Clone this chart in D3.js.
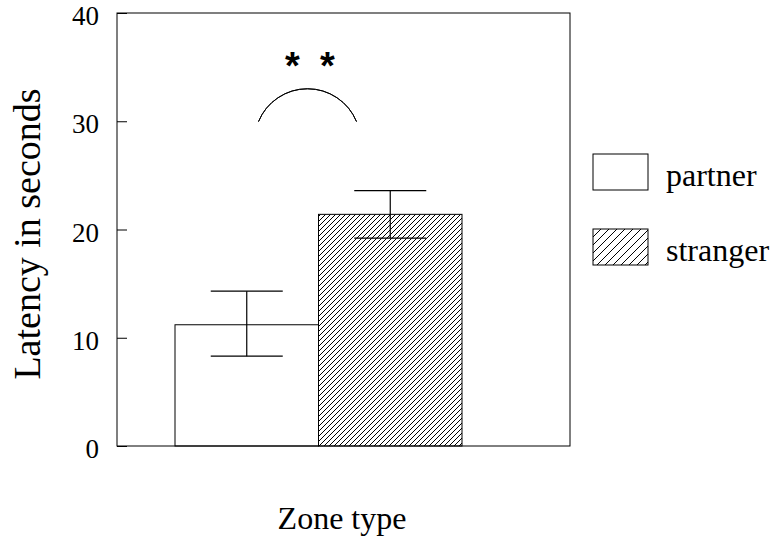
<!DOCTYPE html>
<html>
<head>
<meta charset="utf-8">
<script src="https://cdn.jsdelivr.net/npm/d3@7"></script>
<style>
  body { margin: 0; background: #fff; }
  text { font-family: "Liberation Serif", "Times New Roman", serif; fill: #000; }
</style>
</head>
<body>
<div id="chart"></div>
<script>
var categories = ["partner", "stranger"];
var means = [11.2, 21.4];
var errLow = [8.3, 19.2];
var errHigh = [14.3, 23.6];
var yTicks = [0, 10, 20, 30, 40];

var width = 776, height = 538;
var plotLeft = 117, plotRight = 570, plotTop = 13, plotBottom = 446;

var svg = d3.select("#chart").append("svg")
  .attr("width", width)
  .attr("height", height);

// two hatch densities: fine one in the bar, coarser one in the legend key
var defs = svg.append("defs");
function hatch(id, s) {
  defs.append("pattern")
    .attr("id", id)
    .attr("patternUnits", "userSpaceOnUse")
    .attr("width", s).attr("height", s)
    .append("path")
    .attr("d", "M0," + s + "L" + s + ",0M-1,1L1,-1M" + (s - 1) + "," + (s + 1) + "L" + (s + 1) + "," + (s - 1))
    .attr("stroke", "#000").attr("stroke-width", 1)
    .attr("shape-rendering", "crispEdges");
}
hatch("hatch", 5);
hatch("hatchKey", 8);

var y = d3.scaleLinear().domain([0, 40]).range([plotBottom, plotTop]);
var x = d3.scaleBand().domain(categories).range([175, 462]).padding(0);

// bars
svg.selectAll("rect.bar")
  .data(categories)
  .enter().append("rect")
  .attr("class", "bar")
  .attr("x", d => x(d))
  .attr("width", x.bandwidth())
  .attr("y", (d, i) => y(means[i]))
  .attr("height", (d, i) => y(0) - y(means[i]))
  .attr("fill", (d, i) => i == 0 ? "#fff" : "url(#hatch)")
  .attr("stroke", "#000")
  .attr("stroke-width", 1);

// error bars
var cap = 36;
categories.forEach(function(c, i) {
  var cx = x(c) + x.bandwidth() / 2;
  var g = svg.append("g").attr("stroke", "#000").attr("stroke-width", 1.2);
  g.append("line").attr("x1", cx).attr("x2", cx).attr("y1", y(errHigh[i])).attr("y2", y(errLow[i]));
  g.append("line").attr("x1", cx - cap).attr("x2", cx + cap).attr("y1", y(errHigh[i])).attr("y2", y(errHigh[i]));
  g.append("line").attr("x1", cx - cap).attr("x2", cx + cap).attr("y1", y(errLow[i])).attr("y2", y(errLow[i]));
});

// frame
svg.append("rect")
  .attr("x", plotLeft).attr("y", plotTop)
  .attr("width", plotRight - plotLeft).attr("height", plotBottom - plotTop)
  .attr("fill", "none").attr("stroke", "#000").attr("stroke-width", 1);

// y axis, ticks pointing inward
var yAxis = svg.append("g")
  .attr("transform", "translate(" + plotLeft + ",0)")
  .call(d3.axisRight(y).tickValues(yTicks).tickSize(10).tickFormat(""));
yAxis.select(".domain").remove();
yAxis.selectAll("line").attr("stroke", "#000");

svg.selectAll("text.ytick")
  .data(yTicks)
  .enter().append("text")
  .attr("class", "ytick")
  .attr("x", 99)
  .attr("y", d => y(d) + 12)
  .attr("text-anchor", "end")
  .style("font-size", "27px")
  .text(d => d);

// significance arc and stars
var mid = (x(categories[0]) + x(categories[1]) + x.bandwidth()) / 2 - 11;
var arcR = 53;
var arcCy = y(33) + arcR;
var ang = Math.asin(49 / arcR);
svg.append("path")
  .attr("transform", "translate(" + mid + "," + arcCy + ")")
  .attr("d", d3.arc()({innerRadius: arcR, outerRadius: arcR, startAngle: -ang, endAngle: ang}))
  .attr("fill", "none").attr("stroke", "#000").attr("stroke-width", 1);

svg.selectAll("text.star")
  .data([-15, 20])
  .enter().append("text")
  .attr("class", "star")
  .attr("x", d => mid + d).attr("y", y(34.5) + 6)
  .attr("text-anchor", "middle")
  .style("font-family", "'Liberation Sans', Arial, sans-serif")
  .style("font-weight", "bold")
  .style("font-size", "38px")
  .text("*");

// axis titles
svg.append("text")
  .attr("x", 342).attr("y", 529)
  .attr("text-anchor", "middle")
  .style("font-size", "32px")
  .text("Zone type");

svg.append("text")
  .attr("transform", "translate(40," + 234 + ") rotate(-90)")
  .attr("text-anchor", "middle")
  .style("font-size", "38px")
  .text("Latency in seconds");

// legend
var legend = svg.selectAll("g.legend")
  .data(categories)
  .enter().append("g")
  .attr("class", "legend")
  .attr("transform", (d, i) => "translate(593," + (154 + i * 75) + ")");
legend.append("rect")
  .attr("width", 55).attr("height", 36)
  .attr("fill", (d, i) => i == 0 ? "#fff" : "url(#hatchKey)")
  .attr("stroke", "#000").attr("stroke-width", 1);
legend.append("text")
  .attr("x", 73).attr("y", 32)
  .style("font-size", "32px")
  .text(d => d);
</script>
</body>
</html>
